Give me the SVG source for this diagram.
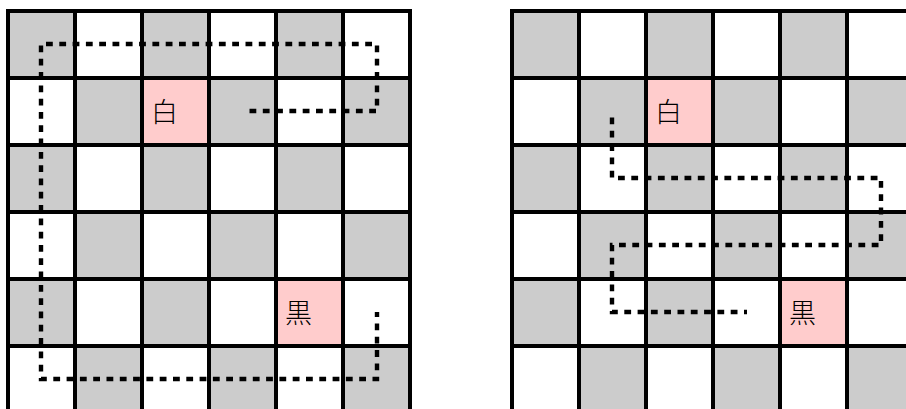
<svg xmlns="http://www.w3.org/2000/svg" width="906" height="409" viewBox="0 0 906 409">
<style>
.g{fill:#cccccc}
.p{fill:#ffcccc}
.grid{stroke:#000;stroke-width:4;fill:none;stroke-linecap:square}
.route{stroke:#000;stroke-width:4.4;fill:none;stroke-dasharray:6.8 6.5;stroke-dashoffset:6.8}
.t{font-family:"Noto Sans CJK JP","Noto Sans CJK SC",sans-serif;font-size:27px;font-weight:300;fill:#000}
</style>
<rect width="906" height="409" fill="#fff"/>
<g id="board-left">
<rect class="g" x="8" y="11" width="67" height="67"/><rect class="g" x="142" y="11" width="67" height="67"/><rect class="g" x="276" y="11" width="67" height="67"/>
<rect class="g" x="75" y="78" width="67" height="67"/><rect class="g" x="209" y="78" width="67" height="67"/><rect class="g" x="343" y="78" width="67" height="67"/>
<rect class="g" x="8" y="145" width="67" height="67"/><rect class="g" x="142" y="145" width="67" height="67"/><rect class="g" x="276" y="145" width="67" height="67"/>
<rect class="g" x="75" y="212" width="67" height="67"/><rect class="g" x="209" y="212" width="67" height="67"/><rect class="g" x="343" y="212" width="67" height="67"/>
<rect class="g" x="8" y="279" width="67" height="67"/><rect class="g" x="142" y="279" width="67" height="67"/>
<rect class="g" x="75" y="346" width="67" height="67"/><rect class="g" x="209" y="346" width="67" height="67"/><rect class="g" x="343" y="346" width="67" height="67"/>
</g>
<g id="board-right">
<rect class="g" x="512" y="11" width="67" height="67"/><rect class="g" x="646" y="11" width="67" height="67"/><rect class="g" x="780" y="11" width="67" height="67"/>
<rect class="g" x="579" y="78" width="67" height="67"/><rect class="g" x="713" y="78" width="67" height="67"/><rect class="g" x="847" y="78" width="67" height="67"/>
<rect class="g" x="512" y="145" width="67" height="67"/><rect class="g" x="646" y="145" width="67" height="67"/><rect class="g" x="780" y="145" width="67" height="67"/>
<rect class="g" x="579" y="212" width="67" height="67"/><rect class="g" x="713" y="212" width="67" height="67"/><rect class="g" x="847" y="212" width="67" height="67"/>
<rect class="g" x="512" y="279" width="67" height="67"/><rect class="g" x="646" y="279" width="67" height="67"/>
<rect class="g" x="579" y="346" width="67" height="67"/><rect class="g" x="713" y="346" width="67" height="67"/><rect class="g" x="847" y="346" width="67" height="67"/>
</g>
<g id="white-left"><rect class="p" x="142" y="78" width="67" height="67"/><text class="t" x="151" y="122">白</text></g>
<g id="black-left"><rect class="p" x="276" y="279" width="67" height="67"/><text class="t" x="285" y="323">黒</text></g>
<g id="white-right"><rect class="p" x="646" y="78" width="67" height="67"/><text class="t" x="655" y="122">白</text></g>
<g id="black-right"><rect class="p" x="780" y="279" width="67" height="67"/><text class="t" x="789" y="323">黒</text></g>
<g id="connectors">
<polyline class="route" points="243,111 377,111 377,44 41,44 41,379 377,379 377,312"/>
<polyline class="route" points="612,111 612,178 881,178 881,245 612,245 612,312 747,312"/>
</g>
<g id="grid">
<path class="grid" d="M8 11V413M75 11V413M142 11V413M209 11V413M276 11V413M343 11V413M410 11V413M8 11H410M8 78H410M8 145H410M8 212H410M8 279H410M8 346H410"/>
<path class="grid" d="M512 11V413M579 11V413M646 11V413M713 11V413M780 11V413M847 11V413M512 11H910M512 78H910M512 145H910M512 212H910M512 279H910M512 346H910"/>
</g>
</svg>
